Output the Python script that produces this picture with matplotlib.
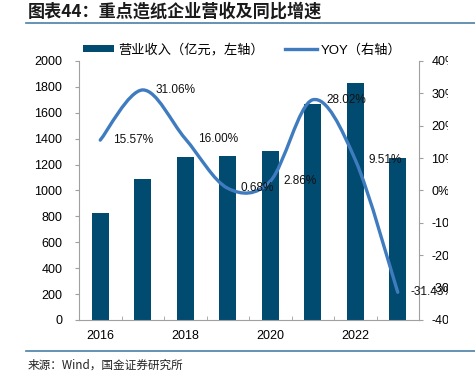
#!/usr/bin/env python3
import matplotlib
matplotlib.use("Agg")
import matplotlib.pyplot as plt
import matplotlib.lines as lines
import matplotlib.patches as patches
from matplotlib.path import Path
import numpy as np

years = [2016, 2017, 2018, 2019, 2020, 2021, 2022, 2023]
revenue = [828, 1085, 1259, 1268, 1304, 1669, 1828, 1253]
yoy = [15.57, 31.06, 16.00, 0.68, 2.86, 28.02, 9.51, -31.43]
yoy_labels = ["15.57%", "31.06%", "16.00%", "0.68%", "2.86%", "28.02%", "9.51%", "-31.43%"]
left_ticks = list(range(0, 2001, 200))
right_ticks = list(range(-40, 41, 10))
right_tick_labels = [f"{v}%" for v in right_ticks]
year_ticks = [2016, 2018, 2020, 2022]

bar_color = "#014a70"
line_color = "#3f7cbf"
rule_color = "#4a80a4"
axis_color = "#a0a0a0"

plt.rcParams['font.family'] = ['Liberation Sans', 'Noto Sans CJK SC', 'DejaVu Sans']

fig = plt.figure(figsize=(4.75, 3.83), dpi=100)
ax = fig.add_axes([79 / 475, 1 - 320 / 383, (419 - 79) / 475, (320 - 61) / 383])
ax2 = ax.twinx()

x = np.arange(len(years))
bars = ax.bar(x, revenue, width=0.4, color=bar_color, zorder=1,
              label="营业收入（亿元，左轴）")
ax.set_xlim(-0.5, len(years) - 0.5)
ax.set_ylim(0, 2000)
ax.set_yticks(left_ticks)
ax.tick_params(axis='y', labelsize=9, length=3, color=axis_color, pad=9)
ax.set_xticks([years.index(y) for y in year_ticks], labels=[str(y) for y in year_ticks])
ax.set_xticks(np.arange(-0.5, len(years)), minor=True)
ax.tick_params(axis='x', which='major', length=0, labelsize=9, pad=7)
ax.tick_params(axis='x', which='minor', direction='in', length=3, color=axis_color)
for s in ['top', 'right']:
    ax.spines[s].set_visible(False)
for s in ['left', 'bottom']:
    ax.spines[s].set_color(axis_color)

# smoothed yoy line (catmull-rom -> bezier, like excel smooth line)
pts = np.column_stack([x, yoy]).astype(float)
ext = np.vstack([pts[0], pts, pts[-1]])
verts = [tuple(pts[0])]
codes = [Path.MOVETO]
for i in range(1, len(ext) - 2):
    p0, p1, p2, p3 = ext[i - 1], ext[i], ext[i + 1], ext[i + 2]
    c1 = p1 + (p2 - p0) / 6
    c2 = p2 - (p3 - p1) / 6
    verts += [tuple(c1), tuple(c2), tuple(p2)]
    codes += [Path.CURVE4] * 3
ax2.add_patch(patches.PathPatch(Path(verts, codes), facecolor='none',
                                edgecolor=line_color, linewidth=2.4,
                                capstyle='round', zorder=3))
ax2.set_ylim(-40, 40)
ax2.set_yticks(right_ticks, labels=right_tick_labels)
ax2.tick_params(axis='y', labelsize=9, length=3, color=axis_color, pad=6)
for s in ['top', 'left', 'bottom']:
    ax2.spines[s].set_visible(False)
ax2.spines['right'].set_color(axis_color)

for xi, yi, lab in zip(x, yoy, yoy_labels):
    ax2.annotate(lab, (xi, yi), xytext=(9.5, 0), textcoords='offset points',
                 ha='left', va='center', fontsize=8.5, color='#111111', zorder=4)

handles = [bars, lines.Line2D([], [], color=line_color, linewidth=2.4)]
fig.legend(handles, ["营业收入（亿元，左轴）", "YOY（右轴）"], ncol=2,
           loc='center', bbox_to_anchor=(0.51, 1 - 50 / 383), frameon=False,
           fontsize=9.5, handlelength=2.4, handleheight=0.5,
           handletextpad=0.3, columnspacing=1.6)

# right edge of the original picture is cut off
fig.add_artist(patches.Rectangle((448 / 475, 1 - 345 / 383), 0.06, 317 / 383,
                                 transform=fig.transFigure, facecolor='white',
                                 edgecolor='none', zorder=10))

fig.text(28 / 475, 1 - 12 / 383, "图表44：重点造纸企业营收及同比增速",
         fontsize=12.3, fontweight='bold', color='#1a1a1a',
         family=['Noto Sans CJK SC'], ha='left', va='center')
fig.add_artist(lines.Line2D([26 / 475, 1], [1 - 23 / 383] * 2,
                            color=rule_color, linewidth=1.2))
fig.add_artist(lines.Line2D([26 / 475, 1], [1 - 351 / 383] * 2,
                            color=rule_color, linewidth=1.2))
fig.text(28 / 475, 1 - 365 / 383, "来源：Wind，国金证券研究所",
         fontsize=8.4, color='#222222', family=['Noto Sans CJK SC'],
         ha='left', va='center')

plt.savefig("out.png", dpi=100)
